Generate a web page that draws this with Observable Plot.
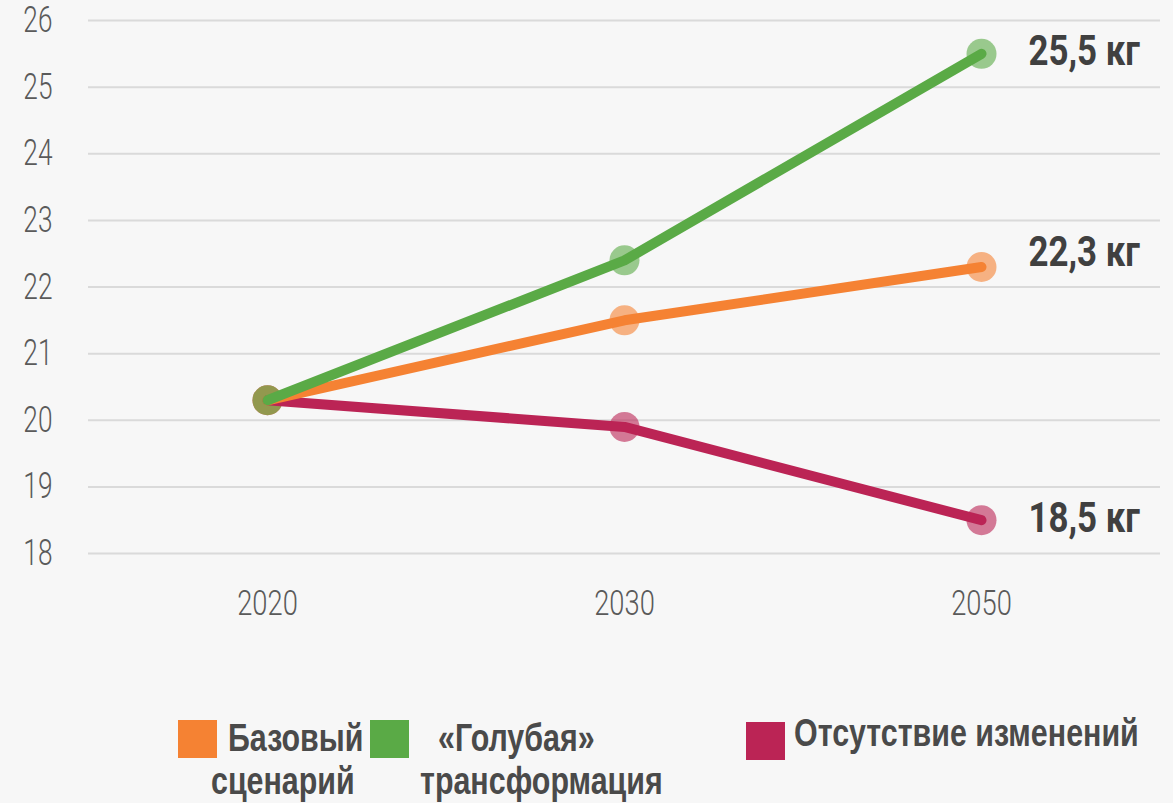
<!DOCTYPE html>
<html>
<head>
<meta charset="utf-8">
<script src="https://cdn.jsdelivr.net/npm/d3@7"></script>
<script src="https://cdn.jsdelivr.net/npm/@observablehq/plot@0.6"></script>
<style>
  html, body { margin: 0; padding: 0; background: #f7f7f7; }
  #wrap { position: relative; width: 1173px; height: 803px; overflow: hidden; }
  .legend-swatch { position: absolute; width: 39px; height: 38px; }
  .legend-line { position: absolute; font-family: "Liberation Sans", Arial, sans-serif; white-space: nowrap;
    font-weight: bold; font-size: 38px; line-height: 43px; color: #4a4a4a;
    transform-origin: left center; transform: scaleX(0.80); }
</style>
</head>
<body>
<div id="wrap"></div>
<script>
const years = ["2020", "2030", "2050"];
const seriesNames = ["Базовый сценарий", "«Голубая» трансформация", "Отсутствие изменений"];
const baseValues = [20.3, 21.5, 22.3];
const blueValues = [20.3, 22.4, 25.5];
const noChangeValues = [20.3, 19.9, 18.5];
const seriesColors = ["#f58233", "#5aaa46", "#bb2455"];
const yTicks = [18, 19, 20, 21, 22, 23, 24, 25, 26];
const endLabels = ["22,3 кг", "25,5 кг", "18,5 кг"];

// draw order: bottom to top
const drawOrder = [
  {name: seriesNames[2], values: noChangeValues, label: endLabels[2]},
  {name: seriesNames[0], values: baseValues, label: endLabels[0]},
  {name: seriesNames[1], values: blueValues, label: endLabels[1]}
];
const rows = [];
drawOrder.forEach(s => s.values.forEach((v, i) => rows.push({year: years[i], value: v, series: s.name})));
const endRows = drawOrder.map(s => ({year: years[years.length - 1], value: s.values[s.values.length - 1], series: s.name, label: s.label}));

const chart = Plot.plot({
  width: 1173,
  height: 660,
  marginTop: 20,
  marginBottom: 107,
  marginLeft: 88,
  marginRight: 13,
  style: {background: "transparent", fontFamily: "Roboto, sans-serif", overflow: "visible"},
  x: {type: "point", domain: years, padding: 0.5, label: null},
  y: {domain: [18, 26], label: null},
  color: {domain: seriesNames, range: seriesColors},
  marks: [
    Plot.ruleY(yTicks, {stroke: "#dadada", strokeWidth: 2}),
    Plot.axisY({ticks: yTicks, tickSize: 0, tickPadding: 36, fontSize: 36, fontWeight: 300, fill: "#5a5a5a", label: null, tickFormat: d => String(d)}),
    Plot.axisX({tickSize: 0, tickPadding: 37, fontSize: 35, fontWeight: 300, fill: "#5a5a5a", label: null}),
    Plot.dot(rows, {x: "year", y: "value", fill: "series", fillOpacity: 0.6, r: 15, stroke: "none"}),
    Plot.line(rows, {x: "year", y: "value", z: "series", stroke: "series", strokeWidth: 10, strokeLinecap: "round"}),
    Plot.text(endRows.filter(d => d.series !== seriesNames[0]), {x: "year", y: "value", text: "label", textAnchor: "start", dx: 47, dy: -2, fontSize: 42, fontWeight: "bold", fill: "#404040"}),
    Plot.text(endRows.filter(d => d.series === seriesNames[0]), {x: "year", y: "value", text: "label", textAnchor: "start", dx: 47, dy: -14, fontSize: 42, fontWeight: "bold", fill: "#404040"})
  ]
});

// condense text horizontally (the reference uses a condensed face)
function squeeze(selector, s) {
  chart.querySelectorAll(selector).forEach(t => {
    const tr = t.getAttribute("transform") || "";
    t.setAttribute("transform", `${tr} scale(${s},1)`);
  });
}
squeeze('g[aria-label="y-axis tick label"] text', 0.73);
squeeze('g[aria-label="x-axis tick label"] text', 0.78);
squeeze('g[aria-label="text"] text', 0.83);

const wrap = document.getElementById("wrap");
chart.style.position = "absolute";
chart.style.left = "0px";
chart.style.top = "0px";
wrap.appendChild(chart);

// legend
const legendSwatches = [
  {color: seriesColors[0], x: 178, y: 720},
  {color: seriesColors[1], x: 370, y: 720},
  {color: seriesColors[2], x: 746, y: 722}
];
const legendLines = [
  {text: "Базовый", x: 228, y: 717},
  {text: "сценарий", x: 211, y: 760},
  {text: "«Голубая»", x: 438, y: 717},
  {text: "трансформация", x: 420, y: 760},
  {text: "Отсутствие изменений", x: 794, y: 712}
];
legendSwatches.forEach(it => {
  const sw = document.createElement("div");
  sw.className = "legend-swatch";
  sw.style.left = it.x + "px";
  sw.style.top = it.y + "px";
  sw.style.background = it.color;
  wrap.appendChild(sw);
});
legendLines.forEach(it => {
  const d = document.createElement("div");
  d.className = "legend-line";
  d.style.left = it.x + "px";
  d.style.top = it.y + "px";
  d.textContent = it.text;
  wrap.appendChild(d);
});
</script>
</body>
</html>
